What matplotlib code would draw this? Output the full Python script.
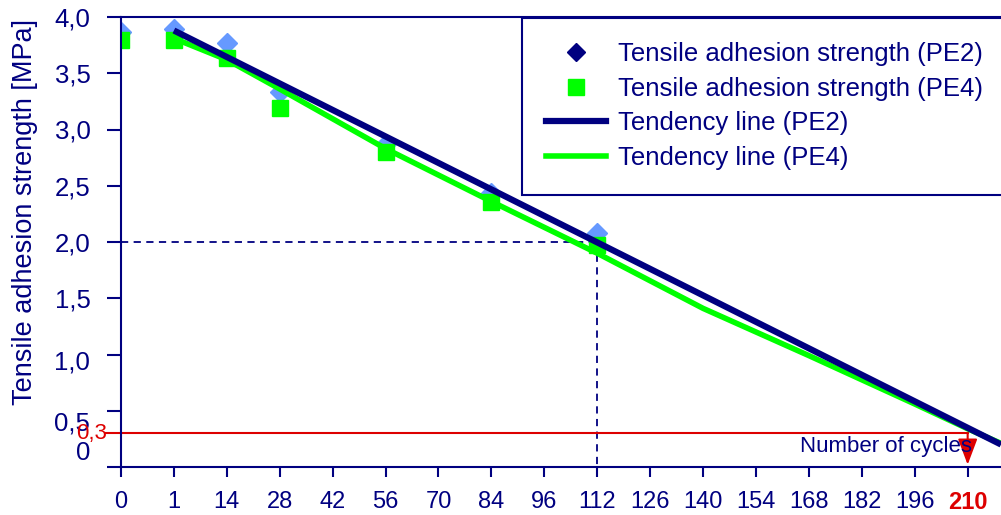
import matplotlib.pyplot as plt
from matplotlib.lines import Line2D
from matplotlib import transforms

plt.rcParams['font.family'] = ['Liberation Sans', 'DejaVu Sans']

navy = '#000080'
red = '#DD0000'

# x axis: equally spaced categories (number of cycles)
cycle_labels = ['0', '1', '14', '28', '42', '56', '70', '84', '96', '112',
                '126', '140', '154', '168', '182', '196', '210']

# measured points (category index, MPa)
meas_idx = [0, 1, 2, 3, 5, 7, 9]
pe2_vals = [3.87, 3.89, 3.77, 3.33, 2.87, 2.44, 2.08]
pe4_vals = [3.80, 3.80, 3.64, 3.19, 2.80, 2.36, 1.97]

# tendency lines
trend_pe2_idx = [1, 16.63]
trend_pe2_vals = [3.88, 0.20]
trend_pe4_idx = [1, 2, 3, 5, 7, 9, 11, 13, 15, 16, 16.63]
trend_pe4_vals = [3.81, 3.62, 3.36, 2.83, 2.36, 1.90, 1.41, 0.99, 0.56, 0.34, 0.21]

limit_val = 0.3
limit_idx = 16
read_idx = 9
read_val = 2.0

fig = plt.figure(figsize=(10.01, 5.15), dpi=100)
ax = fig.add_axes([121 / 1001, 48 / 515, 880 / 1001, 450 / 515])

ax.plot(meas_idx, pe2_vals, linestyle='none', marker='D', ms=10,
        color='#6699FF', zorder=2)
ax.plot(meas_idx, pe4_vals, linestyle='none', marker='s', ms=11,
        color='#00FF00', zorder=2.1)
ax.plot(trend_pe4_idx, trend_pe4_vals, color='#00FF00', lw=4, zorder=3,
        solid_capstyle='butt')
ax.plot(trend_pe2_idx, trend_pe2_vals, color=navy, lw=4.5, zorder=3.1,
        solid_capstyle='butt')

# reading lines at 112 cycles
ax.plot([0, read_idx], [read_val, read_val], color=navy, lw=1.3,
        dashes=(4, 3), zorder=1)
ax.plot([read_idx, read_idx], [read_val, 0], color=navy, lw=1.3,
        dashes=(4, 3), zorder=1)

# limit 0.3 MPa
ax.plot([-0.28, limit_idx], [limit_val, limit_val], color=red, lw=1.5,
        clip_on=False, zorder=1.5)
ax.annotate('', xy=(limit_idx, 0.02), xytext=(limit_idx, limit_val),
            arrowprops=dict(arrowstyle='-|>,head_length=0.8,head_width=0.3',
                            color=red, lw=1.5, mutation_scale=20,
                            shrinkA=0, shrinkB=0), zorder=4)

ax.set_xlim(0, 16.63)
ax.set_ylim(0, 4.0)

ax.set_xticks(range(len(cycle_labels)))
ax.set_xticklabels(cycle_labels, fontsize=17, color=navy)
ax.get_xticklabels()[-1].set_color(red)
ax.get_xticklabels()[-1].set_fontweight('bold')

yt = [0, 0.5, 1.0, 1.5, 2.0, 2.5, 3.0, 3.5, 4.0]
ax.set_yticks(yt)
# the three lowest labels sit below their ticks in the original, placed by hand
ax.set_yticklabels(['', '', ''] + [('%.1f' % v).replace('.', ',') for v in yt[3:]],
                   fontsize=18.5, color=navy)

ax.tick_params(axis='x', direction='out', length=7, width=1.5, color=navy, pad=10)
ax.tick_params(axis='y', direction='out', length=10, width=1.5, color=navy, pad=12)

for side in ['left', 'bottom', 'top']:
    ax.spines[side].set_color(navy)
    ax.spines[side].set_linewidth(1.5)
ax.spines['right'].set_visible(False)

trans = transforms.blended_transform_factory(ax.transAxes, ax.transData)
ax.text(-0.035, 0.12, '0', transform=trans, ha='right', va='center',
        fontsize=18.5, color=navy)
ax.text(-0.035, 0.385, '0,5', transform=trans, ha='right', va='center',
        fontsize=18.5, color=navy)
ax.text(-0.035, 0.93, '1,0', transform=trans, ha='right', va='center',
        fontsize=18.5, color=navy)
ax.text(-0.016, limit_val, '0,3', transform=trans, ha='right', va='center',
        fontsize=16, color=red, zorder=5)

ax.text(12.84, 0.18, 'Number of cycles', ha='left', va='center',
        fontsize=16, color=navy, zorder=5)

ax.set_ylabel('Tensile adhesion strength [MPa]', fontsize=19.5, color=navy)
ax.yaxis.set_label_coords(-0.094, 0.567)

handles = [
    Line2D([], [], linestyle='none', marker='D', ms=9, color=navy),
    Line2D([], [], linestyle='none', marker='s', ms=11, color='#00FF00'),
    Line2D([], [], color=navy, lw=4.5),
    Line2D([], [], color='#00FF00', lw=4),
]
labels = ['Tensile adhesion strength (PE2)', 'Tensile adhesion strength (PE4)',
          'Tendency line (PE2)', 'Tendency line (PE4)']
leg = ax.legend(handles, labels, loc='upper left',
                bbox_to_anchor=((522 - 121) / 880, (467 - 22) / 450,
                                (1020 - 522) / 880, 0.01),
                mode='expand', fontsize=18.5, handlelength=2.33,
                handletextpad=0.47, labelspacing=0.42, borderpad=0.95,
                borderaxespad=0, frameon=True, fancybox=False, framealpha=1)
leg.get_frame().set_edgecolor(navy)
leg.get_frame().set_linewidth(1.5)
for t in leg.get_texts():
    t.set_color(navy)

fig.savefig('out.png', dpi=100)
